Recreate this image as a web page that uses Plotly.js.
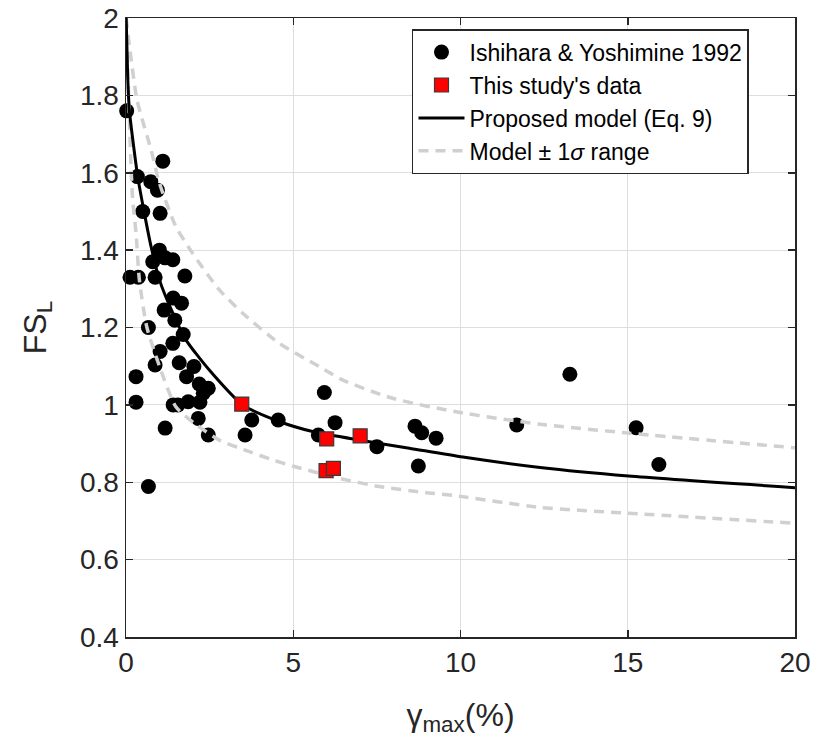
<!DOCTYPE html>
<html>
<head>
<meta charset="utf-8">
<script src="https://cdn.plot.ly/plotly-3.0.1.min.js"></script>
<style>
html,body{margin:0;padding:0;background:#fff;}
#chart{width:817px;height:749px;}
</style>
</head>
<body>
<div id="chart"></div>
<script>
// Ishihara & Yoshimine 1992 data
const ishiharaX = [0.02,0.34,1.10,0.74,0.94,0.50,1.02,1.00,0.80,1.40,1.17,0.12,0.37,0.87,1.76,1.41,1.66,1.14,1.46,0.67,1.71,1.02,1.40,0.87,1.59,2.03,1.81,0.30,2.19,2.46,2.31,0.30,1.41,1.86,2.21,1.55,2.16,1.17,2.46,3.76,4.55,3.56,0.67,5.93,6.25,5.75,7.50,8.64,8.84,9.27,8.74,13.27,11.68,15.25,15.93];
const ishiharaY = [1.76,1.59,1.63,1.577,1.555,1.50,1.495,1.40,1.37,1.375,1.38,1.33,1.33,1.33,1.333,1.276,1.263,1.245,1.219,1.20,1.182,1.138,1.159,1.103,1.109,1.099,1.073,1.073,1.054,1.043,1.030,1.007,1.000,1.008,1.007,1.00,0.965,0.940,0.922,0.961,0.961,0.922,0.789,1.032,0.954,0.922,0.892,0.945,0.928,0.914,0.842,1.079,0.948,0.941,0.846];

// This study's data
const studyX = [3.46,6.00,7.00,5.98,6.20];
const studyY = [1.002,0.912,0.920,0.830,0.836];

// Proposed model curve
const modelX = [0.005,0.05,0.1,0.35,0.55,0.75,1.0,1.4,1.79,2.49,3.49,4.58,5.58,6.97,8.47,10.07,12.38,15.02,20];
const modelY = [2.0,1.85,1.762,1.59,1.495,1.409,1.323,1.237,1.168,1.090,1.0,0.957,0.931,0.909,0.888,0.865,0.838,0.816,0.786];

// Model +1 sigma
const upperX = [0.005,0.1,0.33,0.75,1.0,1.49,1.99,2.79,3.49,4.58,5.78,6.48,7.97,9.87,12.38,15.02,20];
const upperY = [2.0,1.93,1.788,1.659,1.573,1.461,1.392,1.297,1.237,1.159,1.099,1.064,1.017,0.982,0.950,0.927,0.889];

// Model -1 sigma
const lowerX = [0.005,0.1,0.15,0.2,0.30,0.40,0.62,1.0,1.49,2.11,2.79,3.69,4.38,4.98,6.38,7.57,8.97,9.87,12.38,15.02,20];
const lowerY = [2.0,1.745,1.616,1.530,1.444,1.323,1.202,1.10,0.995,0.948,0.909,0.879,0.858,0.842,0.810,0.789,0.773,0.765,0.735,0.720,0.694];

const txt = '#262626';
const font = 'Liberation Sans, Arial, Helvetica, sans-serif';

const traces = [
  {x: ishiharaX, y: ishiharaY, type: 'scatter', mode: 'markers', name: 'Ishihara & Yoshimine 1992', cliponaxis: false,
   marker: {symbol: 'circle', size: 15, color: '#000000', line: {width: 0}}, legendrank: 1},
  {x: upperX, y: upperY, type: 'scatter', mode: 'lines', name: 'Model ± 1<i>σ</i> range', legendgroup: 'sig',
   line: {color: '#d0d0d0', width: 3.5, dash: '10px,7px', shape: 'spline', smoothing: 0.6}, legendrank: 4},
  {x: lowerX, y: lowerY, type: 'scatter', mode: 'lines', name: 'lower', legendgroup: 'sig', showlegend: false,
   line: {color: '#d0d0d0', width: 3.5, dash: '10px,7px', shape: 'spline', smoothing: 0.6}},
  {x: modelX, y: modelY, type: 'scatter', mode: 'lines', name: 'Proposed model (Eq. 9)',
   line: {color: '#000000', width: 3, shape: 'spline', smoothing: 0.6}, legendrank: 3},
  {x: studyX, y: studyY, type: 'scatter', mode: 'markers', name: "This study's data", cliponaxis: false,
   marker: {symbol: 'square', size: 14, color: '#ff0000', line: {width: 1.2, color: '#3a3a3a'}}, legendrank: 2}
];

const axisCommon = {
  showline: true, linecolor: txt, linewidth: 1.5, mirror: 'ticks',
  ticks: 'inside', ticklen: 7, tickcolor: txt, tickwidth: 1.5,
  showgrid: true, gridcolor: '#dedede', gridwidth: 1.2, zeroline: false,
  tickfont: {family: font, size: 28, color: txt}
};

const layout = {
  width: 817, height: 749,
  margin: {l: 126, r: 22, t: 18, b: 112},
  paper_bgcolor: '#ffffff', plot_bgcolor: '#ffffff',
  font: {family: font, color: txt},
  showlegend: true,
  xaxis: Object.assign({}, axisCommon, {
    range: [0, 20], tickvals: [0,5,10,15,20], ticktext: ['0','5','10','15','20'],
    title: {text: 'γ<sub>max</sub>(%)', font: {family: font, size: 32, color: txt}, standoff: 26}
  }),
  yaxis: Object.assign({}, axisCommon, {
    range: [0.4, 2], tickvals: [0.4,0.6,0.8,1,1.2,1.4,1.6,1.8,2], ticktext: ['0.4','0.6','0.8','1','1.2','1.4','1.6','1.8','2'],
    title: {text: 'FS<sub>L</sub>', font: {family: font, size: 32, color: txt}, standoff: 24}
  }),
  legend: {
    x: 0.4275, y: 0.982, xanchor: 'left', yanchor: 'top',
    bgcolor: '#ffffff', bordercolor: txt, borderwidth: 1.5,
    font: {family: font, size: 23, color: '#000000'},
    itemwidth: 46, tracegroupgap: 0
  }
};

Plotly.newPlot('chart', traces, layout, {displayModeBar: false, staticPlot: true});
</script>
</body>
</html>
